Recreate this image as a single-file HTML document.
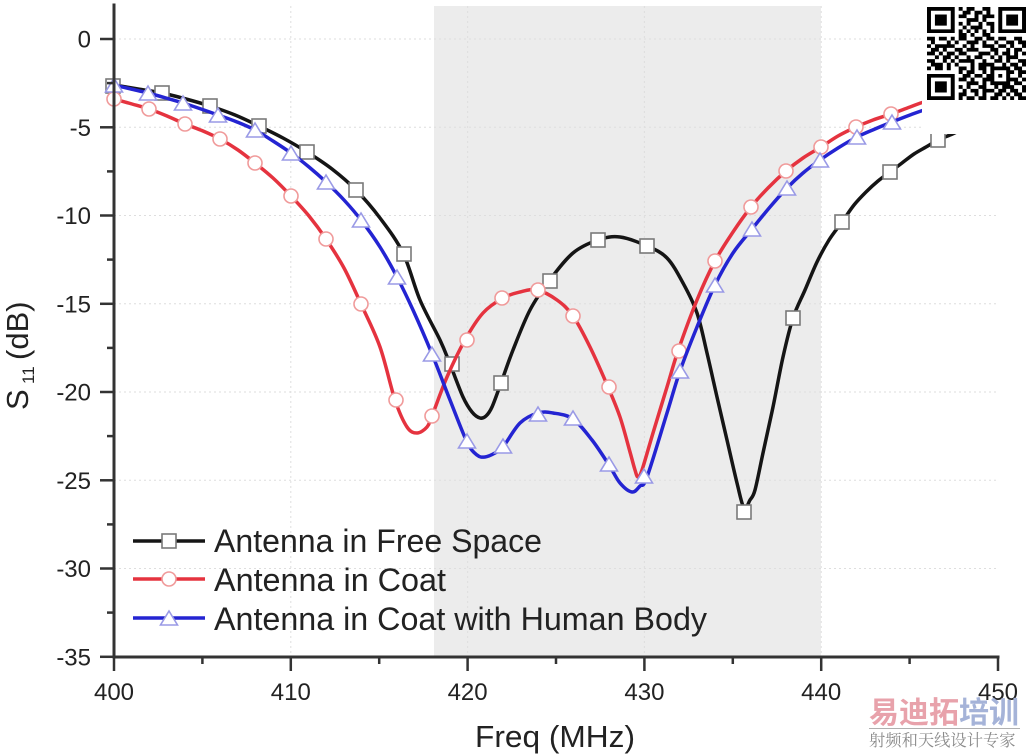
<!DOCTYPE html>
<html><head><meta charset="utf-8"><style>
html,body{margin:0;padding:0;background:#fff;}
svg{display:block;}
text{font-family:"Liberation Sans",Arial,sans-serif;fill:#222;}
</style></head><body>
<svg id="chart" width="1028" height="754" viewBox="0 0 1028 754" xmlns="http://www.w3.org/2000/svg">
<defs>
<rect id="sq" x="-7" y="-7" width="14" height="14" fill="#fff" stroke="#7a7a7a" stroke-width="1.6"/>
<circle id="ci" r="7" fill="#fff" stroke="#f09a9a" stroke-width="1.6"/>
<polygon id="tr" points="0,-8 -8.5,6 8.5,6" fill="#fff" stroke="#9a9ae6" stroke-width="1.6"/>
</defs>
<rect x="0" y="0" width="1028" height="754" fill="#fff"/>
<!-- shaded band -->
<rect x="434" y="6" width="387" height="651" fill="#ececec"/>
<!-- grid -->
<g stroke="#dedede" stroke-width="1" stroke-dasharray="2 3" fill="none">
<line x1="114" y1="39" x2="998" y2="39"/>
<line x1="114" y1="127.3" x2="998" y2="127.3"/>
<line x1="114" y1="215.5" x2="998" y2="215.5"/>
<line x1="114" y1="303.8" x2="998" y2="303.8"/>
<line x1="114" y1="392" x2="998" y2="392"/>
<line x1="114" y1="480.3" x2="998" y2="480.3"/>
<line x1="114" y1="568.5" x2="998" y2="568.5"/>
<line x1="290.8" y1="6" x2="290.8" y2="657"/>
<line x1="467.6" y1="6" x2="467.6" y2="657"/>
<line x1="644.4" y1="6" x2="644.4" y2="657"/>
<line x1="821.2" y1="6" x2="821.2" y2="657"/>
</g>
<!-- black series -->
<polyline class="smooth" fill="none" stroke="#151515" stroke-width="3.5" stroke-linejoin="round" stroke-linecap="round" points="114,85 138,89 162,93 186,99 210,106 235,115 259,126 283,138 307,152 332,169 356,190 380,218 403,253 420,300 440,340 450,364 463,397 472,412 480,418 486,416 492,407 501,383 513,350 530,310 549,281 573,253 598,240 620,237 647,246 667,258 683,283 697,313 707,353 717,397 727,440 737,483 744,508 750,500 755,490 763,453 773,407 783,357 793,318 805,290 817,262 829,240 842,222 854,205 866,192 878,181 890,172 902,163 914,154 926,147 938,140 950,135 962,130 980,125 998,120"/>
<g>
<use href="#sq" x="113" y="86"/><use href="#sq" x="162" y="93"/><use href="#sq" x="210" y="106"/><use href="#sq" x="259" y="126"/><use href="#sq" x="307" y="152"/><use href="#sq" x="356" y="190"/><use href="#sq" x="404" y="254"/><use href="#sq" x="452" y="364"/><use href="#sq" x="501" y="383"/><use href="#sq" x="550" y="281"/><use href="#sq" x="598" y="240"/><use href="#sq" x="647" y="246"/><use href="#sq" x="744" y="512"/><use href="#sq" x="793" y="318"/><use href="#sq" x="842" y="222"/><use href="#sq" x="890" y="172"/><use href="#sq" x="938" y="140"/>
</g>
<!-- red series -->
<polyline class="smooth" fill="none" stroke="#e5333f" stroke-width="3.5" stroke-linejoin="round" stroke-linecap="round" points="114,99 132,104 149,109 167,116 185,124 203,131 220,139 238,150 255,163 273,178 291,196 309,216 326,239 344,268 361,304 380,347 395,400 407,427 417,433 427,427 432,416 447,377 465,340 483,313 503,298 520,292 537,290 557,300 573,316 590,347 608,387 620,417 630,452 635,470 638,477 642,470 653,433 667,387 678,351 697,300 715,261 733,232 751,207 768,188 786,171 803,158 821,147 838,136 856,127 873,120 891,114 910,107 927,101 962,92 998,82"/>
<g>
<use href="#ci" x="114" y="99"/><use href="#ci" x="149" y="109"/><use href="#ci" x="185" y="124"/><use href="#ci" x="220" y="139"/><use href="#ci" x="255" y="163"/><use href="#ci" x="291" y="196"/><use href="#ci" x="326" y="239"/><use href="#ci" x="361" y="304"/><use href="#ci" x="396" y="400"/><use href="#ci" x="432" y="416"/><use href="#ci" x="467" y="340"/><use href="#ci" x="502" y="298"/><use href="#ci" x="538" y="290"/><use href="#ci" x="573" y="316"/><use href="#ci" x="609" y="387"/><use href="#ci" x="679" y="351"/><use href="#ci" x="715" y="261"/><use href="#ci" x="751" y="207"/><use href="#ci" x="786" y="171"/><use href="#ci" x="821" y="147"/><use href="#ci" x="856" y="127"/><use href="#ci" x="891" y="114"/>
</g>
<!-- blue series -->
<polyline class="smooth" fill="none" stroke="#2424d2" stroke-width="3.5" stroke-linejoin="round" stroke-linecap="round" points="114,85 131,89 148,93 166,98 183,103 201,109 218,115 237,122 255,130 273,141 291,153 309,167 326,182 344,200 361,220 380,247 397,277 413,310 432,354 450,400 467,442 477,455 485,457 495,453 503,447 520,423 538,413 553,413 573,419 592,440 609,465 620,483 632,492 640,486 647,477 667,413 680,371 697,327 715,285 733,253 752,229 770,207 787,188 803,173 820,160 838,148 857,137 875,129 892,122 910,115 927,109 962,98 998,88"/>
<g>
<use href="#tr" x="114" y="86"/><use href="#tr" x="148" y="94"/><use href="#tr" x="183" y="104"/><use href="#tr" x="218" y="116"/><use href="#tr" x="255" y="131"/><use href="#tr" x="291" y="154"/><use href="#tr" x="326" y="183"/><use href="#tr" x="361" y="221"/><use href="#tr" x="397" y="278"/><use href="#tr" x="432" y="355"/><use href="#tr" x="467" y="442"/><use href="#tr" x="503" y="447"/><use href="#tr" x="538" y="415"/><use href="#tr" x="573" y="419"/><use href="#tr" x="609" y="465"/><use href="#tr" x="644" y="477"/><use href="#tr" x="680" y="372"/><use href="#tr" x="715" y="286"/><use href="#tr" x="752" y="230"/><use href="#tr" x="787" y="189"/><use href="#tr" x="820" y="161"/><use href="#tr" x="857" y="138"/><use href="#tr" x="892" y="123"/>
</g>
<!-- axes -->
<g stroke="#333" stroke-width="3" fill="none" stroke-linecap="square">
<line x1="114" y1="5" x2="114" y2="657"/>
<line x1="114" y1="657" x2="998" y2="657"/>
</g>
<g stroke="#333" stroke-width="2.5">
<line x1="100" y1="39" x2="114" y2="39"/><line x1="100" y1="127.3" x2="114" y2="127.3"/><line x1="100" y1="215.5" x2="114" y2="215.5"/><line x1="100" y1="303.8" x2="114" y2="303.8"/><line x1="100" y1="392" x2="114" y2="392"/><line x1="100" y1="480.3" x2="114" y2="480.3"/><line x1="100" y1="568.5" x2="114" y2="568.5"/><line x1="100" y1="656.8" x2="114" y2="656.8"/>
<line x1="107" y1="83.1" x2="114" y2="83.1"/><line x1="107" y1="171.4" x2="114" y2="171.4"/><line x1="107" y1="259.6" x2="114" y2="259.6"/><line x1="107" y1="347.9" x2="114" y2="347.9"/><line x1="107" y1="436.1" x2="114" y2="436.1"/><line x1="107" y1="524.4" x2="114" y2="524.4"/><line x1="107" y1="612.6" x2="114" y2="612.6"/>
<line x1="114" y1="657" x2="114" y2="671"/><line x1="290.8" y1="657" x2="290.8" y2="671"/><line x1="467.6" y1="657" x2="467.6" y2="671"/><line x1="644.4" y1="657" x2="644.4" y2="671"/><line x1="821.2" y1="657" x2="821.2" y2="671"/><line x1="998" y1="657" x2="998" y2="671"/>
<line x1="202.4" y1="657" x2="202.4" y2="664"/><line x1="379.2" y1="657" x2="379.2" y2="664"/><line x1="556" y1="657" x2="556" y2="664"/><line x1="732.8" y1="657" x2="732.8" y2="664"/><line x1="909.6" y1="657" x2="909.6" y2="664"/>
</g>
<!-- y tick labels -->
<g font-size="24" text-anchor="end">
<text x="91" y="47.5">0</text>
<text x="91" y="135.8">-5</text>
<text x="91" y="224">-10</text>
<text x="91" y="312.3">-15</text>
<text x="91" y="400.5">-20</text>
<text x="91" y="488.8">-25</text>
<text x="91" y="577">-30</text>
<text x="91" y="665.3">-35</text>
</g>
<!-- x tick labels -->
<g font-size="24" text-anchor="middle">
<text x="114" y="700">400</text>
<text x="290.8" y="700">410</text>
<text x="467.6" y="700">420</text>
<text x="644.4" y="700">430</text>
<text x="821.2" y="700">440</text>
<text x="998" y="700">450</text>
</g>
<!-- axis titles -->
<text x="475" y="747" font-size="31" textLength="160" lengthAdjust="spacingAndGlyphs">Freq (MHz)</text>
<g transform="translate(28,410) rotate(-90)">
<text x="0" y="0" font-size="31">S</text>
<text x="26" y="6" font-size="17">11</text>
<text x="50" y="0" font-size="31">(dB)</text>
</g>
<!-- legend -->
<g stroke-width="3.5">
<line x1="133" y1="541" x2="205" y2="541" stroke="#151515"/>
<line x1="133" y1="579" x2="205" y2="579" stroke="#e5333f"/>
<line x1="133" y1="618" x2="205" y2="618" stroke="#2424d2"/>
</g>
<use href="#sq" x="169" y="541"/>
<use href="#ci" x="169" y="579"/>
<use href="#tr" x="169" y="619"/>
<g font-size="32">
<text x="214" y="552" textLength="328" lengthAdjust="spacingAndGlyphs">Antenna in Free Space</text>
<text x="214" y="591" textLength="232" lengthAdjust="spacingAndGlyphs">Antenna in Coat</text>
<text x="214" y="630" textLength="493" lengthAdjust="spacingAndGlyphs">Antenna in Coat with Human Body</text>
</g>
<!-- QR box -->
<rect x="922" y="0" width="106" height="134" fill="#fff"/>
<g transform="translate(927,7) scale(3.96,3.72)" fill="#000">
<path d="M0 0h7v1h-7zM8 0h1v1h-1zM10 0h2v1h-2zM14 0h2v1h-2zM18 0h7v1h-7z
M0 1h1v1h-1zM6 1h1v1h-1zM9 1h2v1h-2zM12 1h2v1h-2zM15 1h1v1h-1zM18 1h1v1h-1zM24 1h1v1h-1z
M0 2h1v1h-1zM2 2h3v1h-3zM6 2h1v1h-1zM8 2h2v1h-2zM12 2h1v1h-1zM14 2h3v1h-3zM18 2h1v1h-1zM20 2h3v1h-3zM24 2h1v1h-1z
M0 3h1v1h-1zM2 3h3v1h-3zM6 3h1v1h-1zM10 3h3v1h-3zM14 3h1v1h-1zM18 3h1v1h-1zM20 3h3v1h-3zM24 3h1v1h-1z
M0 4h1v1h-1zM2 4h3v1h-3zM6 4h1v1h-1zM8 4h1v1h-1zM10 4h1v1h-1zM13 4h1v1h-1zM15 4h2v1h-2zM18 4h1v1h-1zM20 4h3v1h-3zM24 4h1v1h-1z
M0 5h1v1h-1zM6 5h1v1h-1zM9 5h1v1h-1zM11 5h3v1h-3zM16 5h1v1h-1zM18 5h1v1h-1zM24 5h1v1h-1z
M0 6h7v1h-7zM8 6h1v1h-1zM10 6h1v1h-1zM12 6h1v1h-1zM14 6h1v1h-1zM16 6h1v1h-1zM18 6h7v1h-7z
M8 7h2v1h-2zM11 7h1v1h-1zM14 7h2v1h-2z
M0 8h2v1h-2zM3 8h2v1h-2zM6 8h1v1h-1zM8 8h2v1h-2zM12 8h2v1h-2zM15 8h2v1h-2zM18 8h2v1h-2zM22 8h2v1h-2z
M1 9h1v1h-1zM5 9h1v1h-1zM7 9h1v1h-1zM10 9h3v1h-3zM14 9h1v1h-1zM17 9h1v1h-1zM20 9h2v1h-2zM23 9h2v1h-2z
M0 10h1v1h-1zM2 10h5v1h-5zM9 10h1v1h-1zM11 10h1v1h-1zM14 10h3v1h-3zM18 10h2v1h-2zM21 10h1v1h-1zM24 10h1v1h-1z
M1 11h2v1h-2zM4 11h1v1h-1zM7 11h2v1h-2zM10 11h3v1h-3zM16 11h2v1h-2zM20 11h1v1h-1zM22 11h2v1h-2z
M0 12h2v1h-2zM3 12h1v1h-1zM5 12h2v1h-2zM8 12h2v1h-2zM13 12h3v1h-3zM17 12h1v1h-1zM19 12h2v1h-2zM22 12h1v1h-1zM24 12h1v1h-1z
M2 13h1v1h-1zM4 13h2v1h-2zM7 13h1v1h-1zM10 13h1v1h-1zM12 13h2v1h-2zM16 13h1v1h-1zM18 13h1v1h-1zM20 13h3v1h-3z
M0 14h2v1h-2zM4 14h1v1h-1zM6 14h1v1h-1zM8 14h4v1h-4zM14 14h1v1h-1zM17 14h2v1h-2zM20 14h1v1h-1zM23 14h2v1h-2z
M1 15h3v1h-3zM5 15h1v1h-1zM7 15h1v1h-1zM11 15h1v1h-1zM13 15h4v1h-4zM19 15h1v1h-1zM21 15h2v1h-2zM24 15h1v1h-1z
M0 16h1v1h-1zM2 16h2v1h-2zM5 16h1v1h-1zM8 16h2v1h-2zM11 16h1v1h-1zM13 16h2v1h-2zM16 16h5v1h-5zM22 16h2v1h-2z
M8 17h1v1h-1zM10 17h2v1h-2zM14 17h1v1h-1zM16 17h1v1h-1zM20 17h2v1h-2zM23 17h2v1h-2z
M0 18h7v1h-7zM9 18h2v1h-2zM12 18h2v1h-2zM15 18h2v1h-2zM18 18h1v1h-1zM20 18h1v1h-1zM23 18h1v1h-1z
M0 19h1v1h-1zM6 19h1v1h-1zM8 19h2v1h-2zM11 19h1v1h-1zM14 19h3v1h-3zM20 19h3v1h-3zM24 19h1v1h-1z
M0 20h1v1h-1zM2 20h3v1h-3zM6 20h1v1h-1zM10 20h3v1h-3zM14 20h1v1h-1zM16 20h5v1h-5zM22 20h2v1h-2z
M0 21h1v1h-1zM2 21h3v1h-3zM6 21h1v1h-1zM8 21h1v1h-1zM10 21h1v1h-1zM13 21h2v1h-2zM17 21h1v1h-1zM19 21h3v1h-3zM24 21h1v1h-1z
M0 22h1v1h-1zM2 22h3v1h-3zM6 22h1v1h-1zM9 22h1v1h-1zM11 22h2v1h-2zM14 22h3v1h-3zM18 22h2v1h-2zM21 22h2v1h-2zM24 22h1v1h-1z
M0 23h1v1h-1zM6 23h1v1h-1zM8 23h2v1h-2zM12 23h1v1h-1zM14 23h1v1h-1zM17 23h2v1h-2zM20 23h1v1h-1zM22 23h2v1h-2z
M0 24h7v1h-7zM8 24h1v1h-1zM10 24h2v1h-2zM13 24h2v1h-2zM16 24h2v1h-2zM19 24h1v1h-1zM21 24h1v1h-1zM23 24h2v1h-2z"/>
</g>
<!-- watermark -->
<text x="869" y="723" font-size="30" font-weight="bold" style="font-family:'Noto Sans CJK SC','WenQuanYi Zen Hei',sans-serif;fill:#e8a2ab">易迪拓<tspan style="fill:#a5b3d8">培训</tspan></text>
<line x1="869" y1="728.5" x2="1020" y2="728.5" stroke="#b0b0b0" stroke-width="1"/>
<text x="869" y="746" font-size="16.3" style="font-family:'Noto Serif CJK SC','Noto Sans CJK SC',serif;fill:#8a8a8a">射频和天线设计专家</text>
</svg>
<script>
(function(){
  var pls = document.querySelectorAll('polyline.smooth');
  for (var k=0;k<pls.length;k++){
    var pl = pls[k];
    var nums = pl.getAttribute('points').trim().split(/[\s,]+/).map(Number);
    var p = [];
    for (var i=0;i<nums.length;i+=2) p.push([nums[i],nums[i+1]]);
    var d = 'M'+p[0][0]+','+p[0][1];
    for (var i=0;i<p.length-1;i++){
      var p0 = p[i>0?i-1:i], p1=p[i], p2=p[i+1], p3=p[i+2<p.length?i+2:i+1];
      var c1x = p1[0]+(p2[0]-p0[0])/6, c1y = p1[1]+(p2[1]-p0[1])/6;
      var c2x = p2[0]-(p3[0]-p1[0])/6, c2y = p2[1]-(p3[1]-p1[1])/6;
      d += ' C'+c1x.toFixed(2)+','+c1y.toFixed(2)+' '+c2x.toFixed(2)+','+c2y.toFixed(2)+' '+p2[0]+','+p2[1];
    }
    var path = document.createElementNS('http://www.w3.org/2000/svg','path');
    path.setAttribute('d', d);
    ['fill','stroke','stroke-width','stroke-linejoin','stroke-linecap'].forEach(function(a){ path.setAttribute(a, pl.getAttribute(a)); });
    pl.parentNode.replaceChild(path, pl);
  }
})();
</script>
</body></html>
